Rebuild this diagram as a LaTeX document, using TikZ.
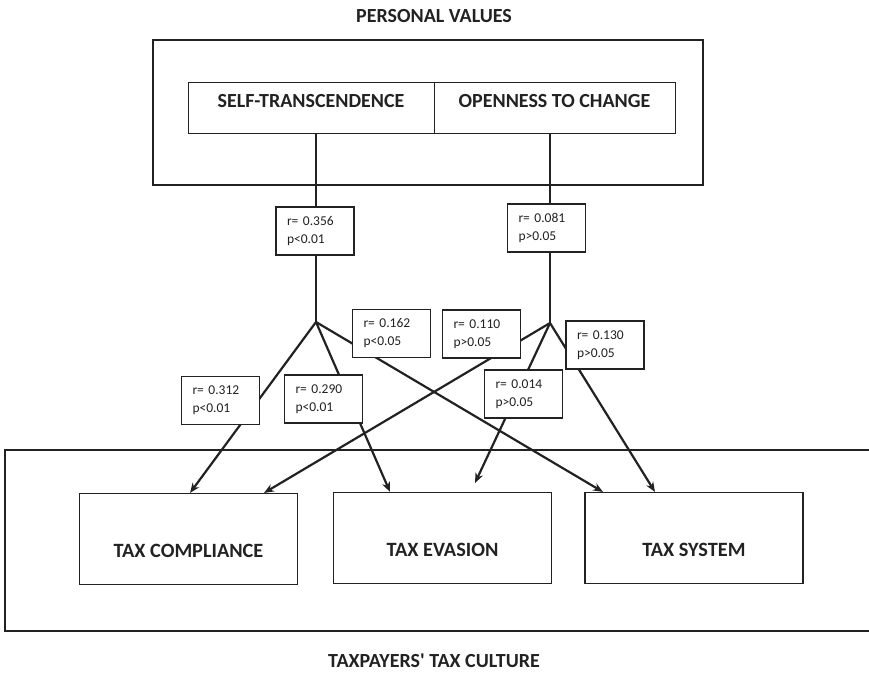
\documentclass[tikz,border=0pt]{standalone}
\usepackage{fontspec}
\setmainfont{Carlito}[Ligatures=TeXOff]
\usetikzlibrary{arrows.meta}

\definecolor{ink}{HTML}{222222}
\tikzset{
	frame/.style={draw=ink, line width=2.2pt},
	valbox/.style={draw=ink, line width=0.9pt, fill=white, minimum height=51pt, text height=10pt, text depth=10pt, font=\fontsize{20}{24}\selectfont\bfseries, text=ink},
	cultbox/.style={draw=ink, line width=1.1pt, minimum width=218pt, minimum height=91pt, text height=37pt, text depth=0pt, font=\fontsize{20.3}{24}\selectfont\bfseries, text=ink},
	stat/.style={draw=ink, line width=1.3pt, fill=white, align=left, text width=56pt, inner xsep=11pt, minimum height=48pt, font=\fontsize{13.5}{18}\selectfont, text=ink},
	link/.style={draw=ink, line width=2.2pt},
	arr/.style={link, -{Stealth[length=10pt,width=8pt]}},
	title/.style={font=\fontsize{20}{24}\selectfont\bfseries, text=ink}
}

\begin{document}
\begin{tikzpicture}[x=1pt, y=-1pt]
	\useasboundingbox (0,0) rectangle (869,673);

	% personal values
	\node[title] (pvt) at (434,16) {PERSONAL VALUES};
	\node[frame, minimum width=550pt, minimum height=145pt] (pv) at (428,112.5) {};
	\node[valbox, minimum width=246pt] (st) at (311,107.5) {SELF-TRANSCENDENCE};
	\node[valbox, minimum width=241pt] (oc) at (554.5,107.5) {OPENNESS TO CHANGE};

	% taxpayers' tax culture
	\draw[frame] (869,450) -- (5,450) -- (5,631) -- (869,631);
	\node[cultbox] (comp) at (188.5,539) {TAX COMPLIANCE};
	\node[cultbox] (evas) at (442.5,538) {TAX EVASION};
	\node[cultbox] (sys) at (694,538) {TAX SYSTEM};
	\node[title] (ttc) at (434,661) {TAXPAYERS' TAX CULTURE};

	\coordinate (j1) at (316,322);
	\coordinate (j2) at (550,323);
	\coordinate (e2) at (475,483);

	\draw[link] (j1 |- st.south) -- (j1);
	\draw[link] (j2 |- oc.south) -- (j2);

	\draw[arr] (j1) -- ([xshift=1.5pt]comp.north);
	\draw[arr] (j1) -- ([xshift=-52.5pt]evas.north);
	\draw[arr] (j1) -- ([xshift=-91pt]sys.north);
	\draw[arr] (j2) -- ([xshift=75.5pt]comp.north);
	\draw[arr] (j2) -- (e2);
	\draw[arr] (j2) -- ([xshift=-39pt]sys.north);

	% correlations
	\node[stat] (s1) at (315,231) {r= 0.356\\p<0.01};
	\node[stat] (s2) at (546.5,228) {r= 0.081\\p>0.05};
	\node[stat] (s3) at (391.5,333.5) {r= 0.162\\p<0.05};
	\node[stat] (s4) at (481.5,334) {r= 0.110\\p>0.05};
	\node[stat] (s5) at (605,345) {r= 0.130\\p>0.05};
	\node[stat] (s6) at (220.5,400.5) {r= 0.312\\p<0.01};
	\node[stat] (s7) at (323.5,399) {r= 0.290\\p<0.01};
	\node[stat] (s8) at (523.5,394) {r= 0.014\\p>0.05};
\end{tikzpicture}
\end{document}
